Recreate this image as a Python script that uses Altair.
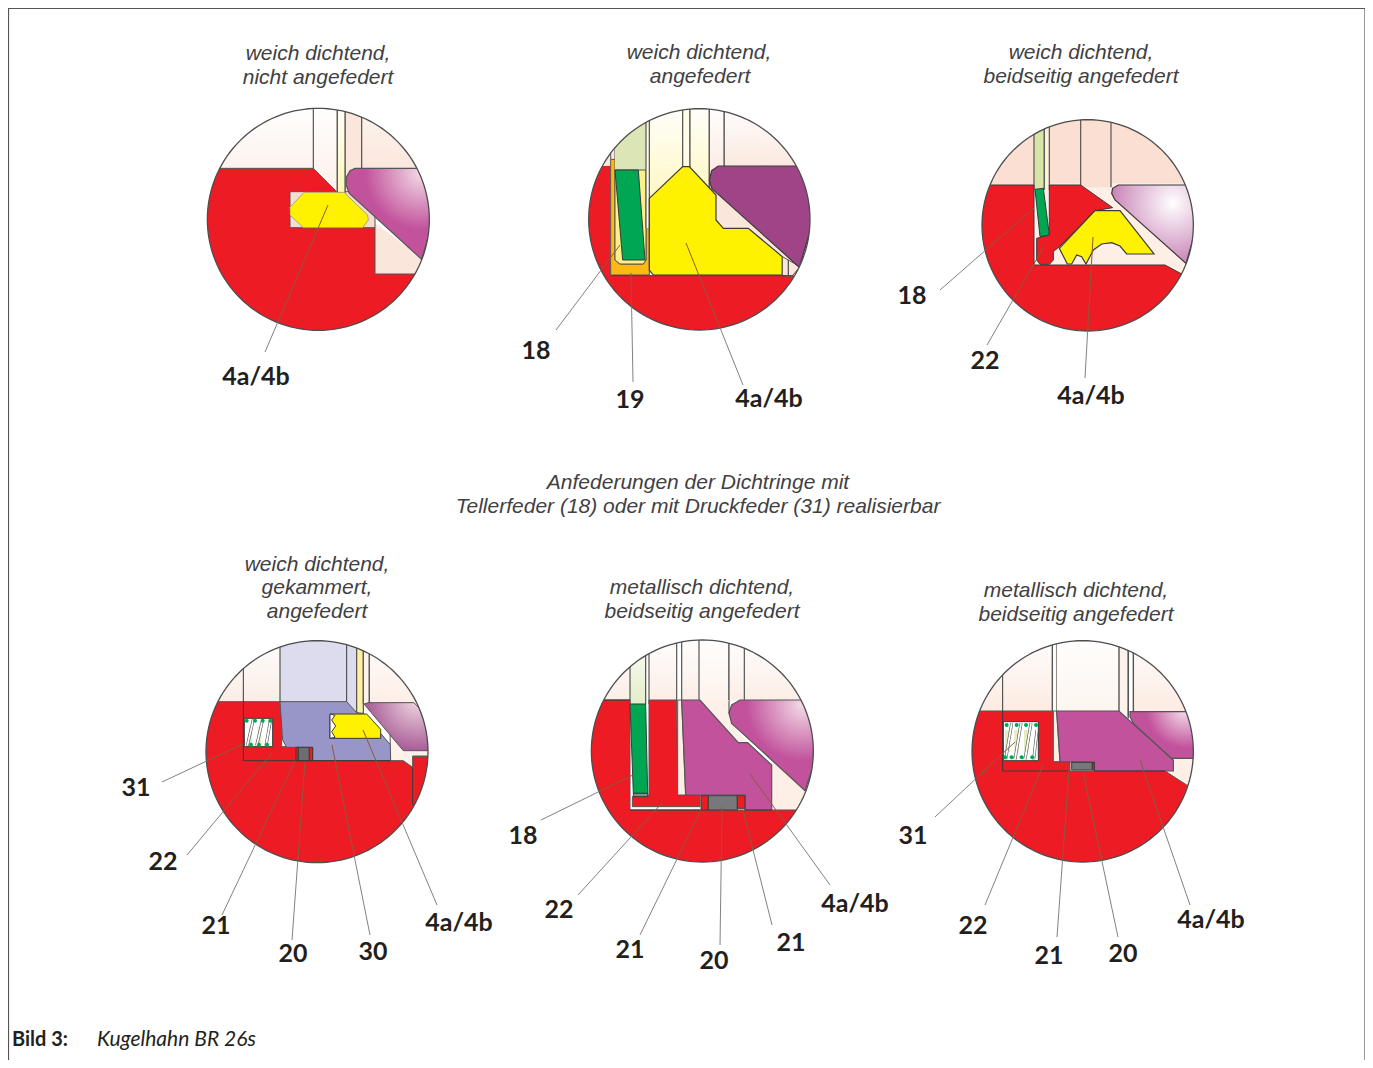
import altair as alt
import math

# ---------- named values ----------
ORIGINS = [(190,100),(570,100),(960,100),(190,630),(575,630),(955,630)]
CIRCLES = [(385,358,333),(388,358,332),(383,376,317),(381,365,333),(382,363,333),(383,364,332)]

RED="#ed1c24"; YEL="#fff200"; GRN="#00a651"; MAG="#c2529c"; PALE="#fbe6dc"; EDGE="#555555"; DARK="#3a3a3a"; THIN="#8a8a8a"

def rad(cx,cy,c0,c1,r=.9):
    return {"gradient":"radial","x1":cx,"y1":cy,"x2":cx,"y2":cy,"r1":0,"r2":r,
            "stops":[{"offset":0,"color":c0},{"offset":1,"color":c1}]}
def lin(c0,c1):
    return {"gradient":"linear","x1":0,"y1":0,"x2":0,"y2":1,
            "stops":[{"offset":0,"color":c0},{"offset":1,"color":c1}]}

def box(x0,y0,x1,y1): return [(x0,y0),(x1,y0),(x1,y1),(x0,y1)]
S="sides"

# --- panel 1
P1 = [
 (box(0,0,372,205), lin("#ffffff","#fdf3ee"), None, 0),
 (box(370,0,442,290), lin("#ffffff","#fdf0ea"), S, 1.2),
 (box(465,0,515,290), PALE, S, 1.2),
 (box(515,0,720,210), lin("#fdf6f2","#fbe6dc"), S, 1.2),
 ([(555,370),(720,490),(720,522),(555,522)], PALE, None, 0),
 ([(0,205),(370,205),(440,275),(300,275),(300,383),(555,383),(555,522),(700,522),(700,720),(0,720)], RED, EDGE, 1),
 (box(300,275,555,383), "#f3ddd2", EDGE, 1),
 (box(442,0,465,280), lin("#ffffff","#fdf6b8"), S, 1.2),
 ([(342,277),(462,277),(533,345),(535,360),(518,383),(340,383),(300,345),(300,322)], YEL, THIN, .7),
 ([(495,205),(720,205),(730,360),(695,478),(478,280),(468,255),(470,230),(480,212)], rad(.85,.05,"#f3dbe6",MAG,.62), EDGE, 1.2),
]
# --- panel 2
P2 = [
 (box(462,0,720,200), lin("#ffffff","#fbe9e0"), S, 1.2),
 (box(0,0,122,200), PALE, None, 0),
 (box(238,0,338,300), lin("#ffffff","#fff7c2"), S, 1.2),
 (box(338,0,360,205), "#fffde8", S, 1.2),
 (box(360,0,418,280), lin("#ffffff","#fff7c2"), S, 1.2),
 (box(418,0,462,280), lin("#ffffff","#fbe6dc"), S, 1.2),
 ([(0,198),(122,198),(122,527),(720,527),(720,720),(0,720)], RED, None, 0),
 (box(122,0,135,178), PALE, S, 1),
 ([(122,178),(135,178),(135,480),(150,492),(220,492),(228,480),(228,385),(238,385),(238,525),(122,525)], "#fdb913", EDGE, 1),
 (box(135,0,228,210), "#dbe5b5", None, 0),
 ([(135,210),(228,210),(228,480),(220,492),(150,492),(135,480)], "#fdf08a", EDGE, 1),
 (box(228,0,238,385), "#fdfbe8", S, 1.2),
 ([(135,210),(205,210),(225,480),(158,480)], GRN, DARK, 1),
 ([(438,280),(540,280),(660,400),(660,527),(438,527)], PALE, None, 0),
 ([(238,295),(338,200),(358,200),(438,285),(438,360),(460,385),(535,385),(637,470),(637,525),(250,525),(238,510)], YEL, DARK, 1.2),
 ([(637,470),(690,500),(665,530),(637,527)], PALE, EDGE, 1),
 (box(655,480,655,527), "none", EDGE, 1),
 ([(445,198),(720,198),(730,360),(688,502),(425,265),(418,240),(425,212)], "#a04488", DARK, 1.2),
]
P2_LINES = [[(122,527),(670,527)]]
# --- panel 3
P3 = [
 (box(0,0,720,260), "#fbdfd2", None, 0),
 (box(222,250,720,530), "#fdeee6", None, 0),
 (box(362,0,453,262), "#fbdfd2", S, 1.2),
 (box(222,0,253,270), "#d9e4a9", S, 1.2),
 (box(253,0,268,270), "#fdf2da", S, 1.2),
 ([(0,255),(222,255),(222,495),(615,495),(665,522),(700,530),(700,720),(0,720)], RED, DARK, 1),
 ([(268,255),(362,255),(458,323),(405,332),(298,440),(280,455),(280,480),(268,493),(240,493),(230,480),(230,415),(268,405)], RED, DARK, 1),
 ([(225,268),(250,265),(268,405),(240,410)], GRN, DARK, 1),
 ([(405,332),(480,332),(582,462),(500,462),(480,438),(455,428),(425,432),(400,450),(378,492),(365,470),(350,465),(335,492),(322,492),(298,445)], YEL, DARK, 1.2),
 ([(475,255),(690,255),(710,380),(678,490),(465,300),(455,280),(458,265)], rad(.72,.25,"#ffffff","#c06fab",.85), DARK, 1.2),
]
# --- panel 4
P4 = [
 (box(0,0,272,215), lin("#ffffff","#faeee6"), None, 0),
 (box(270,0,500,250), "#dcdcee", S, 1.2),
 (box(500,0,520,252), "#fdf0a0", S, 1.2),
 (box(520,0,538,222), "#fdf4ec", S, 1.2),
 (box(538,0,720,222), lin("#ffffff","#fdeee6"), S, 1.2),
 ([(0,215),(275,215),(275,350),(318,350),(318,392),(640,392),(668,412),(668,380),(720,380),(720,720),(0,720)], RED, EDGE, 1),
 ([(270,215),(470,215),(500,248),(520,250),(602,345),(602,392),(368,392),(368,352),(290,352),(278,330)], "#9896c8", EDGE, 1),
 ([(600,310),(720,360),(720,378),(668,378),(668,412),(640,392),(602,392)], "#fdf1ea", EDGE, 1),
 ([(522,222),(535,218),(672,218),(720,270),(720,362),(640,362)], rad(.8,.1,"#f1d8e2","#a0508f",.85), EDGE, 1),
 ([(420,252),(530,252),(572,298),(572,325),(420,325)], YEL, DARK, 1),
 ([(420,252),(435,256),(425,270),(437,288),(425,305),(435,322),(420,325)], "#ffffff", DARK, 1),
 (box(318,352,325,392), RED, DARK, 1),
 (box(325,352,358,392), "#6d6e71", DARK, 1),
 (box(358,352,368,392), RED, DARK, 1),
]
P4_LINES = [[(160,0),(160,392),(318,392)], [(668,412),(668,525)], [(318,392),(602,392)], [(470,0),(470,215)]]
SPRING4 = dict(rect=(163,265,248,350),
               coils=[[(172,347),(190,268)],[(200,347),(218,268)],[(228,347),(242,268)]],
               dots=[(170,272),(195,272),(218,272),(241,272),(183,344),(207,344),(231,344)],
               pads=[(176,290,186,340),(203,290,213,340)])
# --- panel 5
P5 = [
 (box(0,0,720,212), lin("#ffffff","#fbeee6"), None, 0),
 (box(165,0,212,222), lin("#ffffff","#e3edc8"), S, 1.2),
 (box(212,0,222,222), "#ffffff", S, 1.2),
 (box(305,0,320,212), "#ffffff", S, 1.2),
 (box(372,0,462,212), lin("#ffffff","#fdf3ec"), S, 1.2),
 (box(462,0,508,212), lin("#ffffff","#fdeee6"), S, 1.2),
 ([(372,210),(462,210),(470,280),(518,338),(490,338)], "#fdf0e8", None, 0),
 ([(590,395),(720,490),(660,540),(590,540)], "#fdeee6", None, 0),
 ([(0,210),(165,210),(165,540),(720,540),(720,720),(0,720)], RED, EDGE, 1),
 ([(222,210),(305,210),(308,495),(375,495),(375,530),(172,530),(172,500),(222,495)], RED, EDGE, 1),
 ([(308,210),(320,210),(332,495),(308,495)], "#fdeee6", EDGE, 1),
 ([(165,222),(212,222),(218,490),(175,490)], GRN, DARK, 1),
 ([(175,490),(218,490),(218,500),(175,500)], "#8a8c8e", DARK, 1),
 ([(320,210),(375,210),(490,338),(518,338),(590,405),(590,540),(510,540),(510,495),(332,495)], MAG, EDGE, 1.2),
 (box(378,497,400,540), RED, DARK, 1),
 (box(400,497,487,540), "#77787b", DARK, 1),
 (box(487,497,510,535), RED, DARK, 1),
 ([(495,210),(720,210),(730,360),(690,482),(470,280),(462,250),(470,225)], rad(.82,.05,"#f3dbe6",MAG,.62), EDGE, 1.2),
]
P5_LINES = [[(165,540),(375,540)], [(510,540),(590,540)], [(462,212),(462,250)], [(0,210),(165,210)]]
# --- panel 6
P6 = [
 (box(0,0,720,245), lin("#ffffff","#fcebe2"), None, 0),
 (box(292,0,305,245), "#ffffff", S, 1.4),
 (box(305,0,492,245), lin("#ffffff","#fdf5ef"), None, 0),
 (box(492,0,520,265), "#fdf3ec", S, 1.4),
 (box(520,0,535,260), "#ffffff", S, 1.4),
 ([(640,380),(720,380),(720,470),(695,465),(630,423),(655,423)], "#fdeee6", None, 0),
 ([(0,243),(295,243),(295,395),(345,395),(345,423),(630,423),(695,465),(720,465),(720,720),(0,720)], RED, EDGE, 1),
 ([(295,243),(305,243),(315,395),(295,395)], "#fdeee6", EDGE, 1),
 ([(305,243),(492,243),(655,390),(655,423),(418,423),(418,397),(315,395)], MAG, EDGE, 1.2),
 (box(350,397,412,420), "#77787b", DARK, 1),
 (box(412,397,418,420), RED, DARK, 1),
 ([(525,245),(720,245),(720,385),(650,385),(535,280),(525,260)], rad(.85,.1,"#f6e3ec",MAG,.6), EDGE, 1.2),
]
P6_LINES = [[(143,0),(143,423),(345,423)], [(418,423),(630,423)]]
SPRING6 = dict(rect=(145,275,250,392),
               coils=[[(152,388),(170,280)],[(180,388),(198,280)],[(210,388),(228,280)],[(236,388),(246,300)]],
               dots=[(155,285),(185,285),(213,285),(243,285),(150,382),(170,382),(200,382),(232,382)],
               pads=[(150,300,165,365),(178,300,192,365),(207,300,222,365)])

PANELS = [P1,P2,P3,P4,P5,P6]
GREEN_SPRINGS = {3:SPRING4, 5:SPRING6}
EXTRA_LINES = {1:P2_LINES, 3:P4_LINES, 4:P5_LINES, 5:P6_LINES}

# page-coordinate leaders: panel, inner end, outer end
LEADERS = [
 (0,(328,205),(265,352)),
 (1,(620,245),(556,330)),(1,(631,273),(633,382)),(1,(686,243),(743,385)),
 (2,(1034,208),(940,290)),(2,(1043,248),(987,345)),(2,(1093,237),(1085,378)),
 (3,(243,744),(162,782)),(3,(272,753),(187,855)),(3,(295,761),(222,915)),(3,(305,762),(292,940)),(3,(332,745),(370,935)),(3,(363,730),(437,905)),
 (4,(633,775),(541,820)),(4,(662,803),(578,895)),(4,(700,812),(640,935)),(4,(722,807),(720,945)),(4,(743,810),(772,925)),(4,(750,774),(830,885)),
 (5,(1015,742),(935,817)),(5,(1043,765),(985,905)),(5,(1069,770),(1057,937)),(5,(1083,772),(1118,937)),(5,(1140,760),(1190,905)),
]
NUM_LABELS = [
 ("4a/4b",256,377),("18",536,351),("19",630,400),("4a/4b",769,399),
 ("18",912,296),("22",985,361),("4a/4b",1091,396),
 ("31",136,788),("22",163,862),("21",216,926),("20",293,954),("30",373,952),("4a/4b",459,923),
 ("18",523,836),("22",559,910),("21",630,950),("20",714,961),("21",791,943),("4a/4b",855,904),
 ("31",913,836),("22",973,926),("21",1049,956),("20",1123,954),("4a/4b",1211,920),
]
TITLES = [
 ("weich dichtend,",318,54),("nicht angefedert",318,78),
 ("weich dichtend,",699,53),("angefedert",700,77),
 ("weich dichtend,",1081,53),("beidseitig angefedert",1081,77),
 ("Anfederungen der Dichtringe mit",698,483),
 ("Tellerfeder (18) oder mit Druckfeder (31) realisierbar",698,507),
 ("weich dichtend,",317,565),("gekammert,",317,588),("angefedert",317,612),
 ("metallisch dichtend,",702,588),("beidseitig angefedert",702,612),
 ("metallisch dichtend,",1076,591),("beidseitig angefedert",1076,615),
]
FRAME = [(1365,1060),(1365,8.5),(8.5,8.5),(8.5,1060)]

# ---------- build ----------
OFF = 8
def page(pts,o): return [[o[0]+x/3-OFF, o[1]+y/3-OFF] for x,y in pts]
def feat_poly(rings,f,s,w):
    return {"type":"Feature","geometry":{"type":"Polygon","coordinates":rings},
            "properties":{"f":f,"s":s or "none","w":w}}
def feat_line(pts,s,w):
    return {"type":"Feature","geometry":{"type":"LineString","coordinates":pts},
            "properties":{"f":"none","s":s,"w":w}}
def closed(p): return p+[p[0]]

layers=[]; run=[]
def flush():
    global run
    if run:
        layers.append(alt.Chart(alt.Data(values=run)).mark_geoshape().encode(
            fill=alt.Fill("properties.f:N",scale=None,legend=None),
            stroke=alt.Stroke("properties.s:N",scale=None,legend=None),
            strokeWidth=alt.StrokeWidth("properties.w:Q",scale=None,legend=None)))
        run=[]
def add(pts,f,s,w):
    sides = s==S
    fs = None if sides else s
    if isinstance(f,dict):
        flush()
        kw={"fill":f}
        if fs: kw.update(stroke=fs,strokeWidth=w)
        else: kw.update(stroke="transparent",strokeWidth=0)
        layers.append(alt.Chart(alt.Data(values=[feat_poly([closed(pts)],"none",fs,w)])).mark_geoshape(**kw))
    else:
        run.append(feat_poly([closed(pts)],f,fs,w))
    if sides:
        run.append(feat_line([pts[0],pts[3]],EDGE,w))
        run.append(feat_line([pts[1],pts[2]],EDGE,w))

for i,(shapes,o,c) in enumerate(zip(PANELS,ORIGINS,CIRCLES)):
    for pts,f,s,w in shapes:
        add(page(pts,o),f,s,w)
    if i in GREEN_SPRINGS:
        sp=GREEN_SPRINGS[i]
        x0,y0,x1,y1=sp["rect"]
        run.append(feat_poly([closed(page(box(x0,y0,x1,y1),o))],"#ffffff",DARK,1))
        for a,b,cc,d in sp["pads"]:
            run.append(feat_poly([closed(page(box(a,b,cc,d),o))],"#e6ecc0",None,0))
        for seg in sp["coils"]:
            run.append(feat_line(page(seg,o),"#555555",3))
            run.append(feat_line(page(seg,o),"#ffffff",1.8))
        for dx,dy in sp["dots"]:
            ring=[(dx+6*math.cos(k*math.pi/6),dy+6*math.sin(k*math.pi/6)) for k in range(12)]
            run.append(feat_poly([closed(page(ring,o))],GRN,None,0))
    for seg in EXTRA_LINES.get(i,[]):
        run.append(feat_line(page(seg,o),DARK,1))
    cx=o[0]+c[0]/3-OFF; cy=o[1]+c[1]/3-OFF; r=c[2]/3
    m=r+28
    outer=[[cx-m,cy-m],[cx+m,cy-m],[cx+m,cy+m],[cx-m,cy+m]]
    hole=[[cx+r*math.cos(k*math.pi/72),cy+r*math.sin(k*math.pi/72)] for k in range(144)]
    run.append(feat_poly([closed(outer),closed(hole[::-1])],"#ffffff",None,0))
    run.append(feat_line(closed(hole),"#4d4d4f",1.3))

for n,a,b in LEADERS:
    o,c=ORIGINS[n],CIRCLES[n]
    cx=o[0]+c[0]/3; cy=o[1]+c[1]/3; r=c[2]/3
    ax,ay=a; bx,by=b
    dx,dy=bx-ax,by-ay
    A=dx*dx+dy*dy; B=2*((ax-cx)*dx+(ay-cy)*dy); C=(ax-cx)**2+(ay-cy)**2-r*r
    t=(-B+math.sqrt(B*B-4*A*C))/(2*A)
    mid=(ax+t*dx,ay+t*dy)
    run.append(feat_line([[ax-OFF,ay-OFF],[mid[0]-OFF,mid[1]-OFF]],"#8c5a3c",1))
    run.append(feat_line([[mid[0]-OFF,mid[1]-OFF],[bx-OFF,by-OFF]],"#808285",1))
run.append(feat_line([[x-OFF,y-OFF] for x,y in FRAME],"#555555",1.2))
flush()

def text_layer(rows,**mk):
    d=[{"t":t,"lon":x-OFF,"lat":y-OFF} for t,x,y in rows]
    return alt.Chart(alt.Data(values=d)).mark_text(baseline="middle",**mk).encode(
        longitude="lon:Q",latitude="lat:Q",text="t:N")

layers.append(text_layer(TITLES,font="Liberation Sans",fontStyle="italic",fontSize=21,color="#414042",align="center"))
layers.append(text_layer(NUM_LABELS,font="Lato",fontWeight="bold",fontSize=25,color="#231f20",align="center"))
layers.append(text_layer([("Bild 3:",12,1040)],font="Lato",fontWeight="bold",fontSize=20,color="#231f20",align="left"))
layers.append(text_layer([("Kugelhahn BR 26s",97,1040)],font="Lato",fontStyle="italic",fontSize=21,color="#231f20",align="left"))

chart=alt.layer(*layers).project(type="identity",scale=1,translate=[0,0]).properties(
    width=1357,height=1052,padding=0,autosize=alt.AutoSizeParams(type="none")
).configure_view(stroke=None)
chart.save("out.html",embed_options={"renderer":"svg","actions":False})
